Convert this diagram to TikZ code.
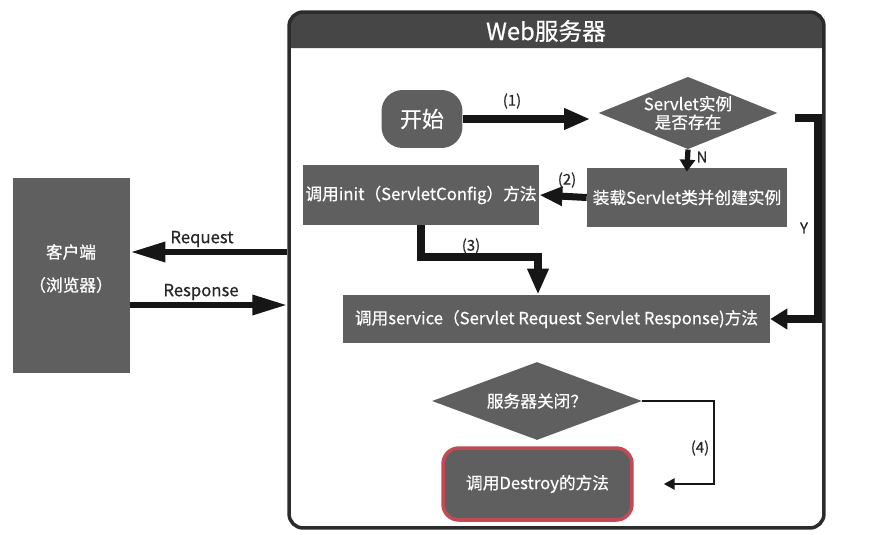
\documentclass[tikz,border=0pt]{standalone}
\usepackage{fontspec}
\setmainfont{Noto Sans CJK SC}[FakeBold=0.6]
\usetikzlibrary{arrows.meta,shapes.geometric}

\definecolor{boxgray}{HTML}{5F5F5F}
\definecolor{headgray}{HTML}{464646}
\definecolor{framegray}{HTML}{2B2B2B}
\definecolor{arrowblack}{HTML}{161616}
\definecolor{destroyred}{HTML}{C24A55}

\tikzset{
  box/.style={fill=boxgray, text=white, inner sep=0pt, font=\fontsize{9.5}{11}\selectfont},
  decision/.style={diamond, aspect=2.3, fill=boxgray, text=white, inner sep=0pt, align=center, font=\fontsize{9.5}{10.5}\selectfont},
  bigarrow/.style={draw=arrowblack, line width=4pt, -{Triangle[length=0.52cm,width=0.4cm]}},
  thinarrow/.style={draw=arrowblack, line width=1.6pt, -{Triangle[length=0.22cm,width=0.22cm]}},
  steplabel/.style={text=black!85, font=\fontsize{8.5}{10}\selectfont}
}

\begin{document}
\begin{tikzpicture}[x=0.02cm, y=-0.02cm]
  \useasboundingbox (0,0) rectangle (882,534);

  % Web服务器的框
  \fill[headgray, rounded corners=8pt] (289,48) -- (289,12) -- (824,12) -- (824,30) [sharp corners] -- (824,48) -- cycle;
  \node[draw=framegray, line width=2pt, rounded corners=8pt, minimum width=10.7cm, minimum height=10.32cm] (server) at (556.5,270) {};
  \node[text=white, font=\fontsize{13.5}{15}\selectfont] (webtitle) at (546,31) {Web服务器};

  % 客户端
  \node[box, minimum width=2.34cm, minimum height=3.9cm] (client) at (71.5,275.5) {};
  \node[text=white, font=\fontsize{9.5}{11}\selectfont] (clientname) at (71,252) {客户端};
  \node[text=white, font=\fontsize{9.5}{11}\selectfont] (browser) at (71,285) {（浏览器）};

  % 流程中的节点
  \node[box, rounded corners=12pt, minimum width=1.62cm, minimum height=1.16cm, font=\fontsize{12.5}{14}\selectfont] (start) at (422,119) {开始};
  \node[decision, minimum width=3.58cm, minimum height=1.24cm] (exist) at (688,113) {Servlet实例\\是否存在};
  \node[box, minimum width=4.0cm, minimum height=1.18cm] (load) at (687,197.5) {装载Servlet类并创建实例};
  \node[box, minimum width=4.72cm, minimum height=1.2cm] (init) at (421,195) {调用init（ServletConfig）方法};
  \node[box, minimum width=8.54cm, minimum height=0.96cm] (service) at (556.5,319) {调用service（Servlet Request Servlet Response)方法};
  \node[decision, minimum width=4.2cm, minimum height=1.56cm] (close) at (537,401) {服务器关闭？};
  \node[box, draw=destroyred, line width=2pt, rounded corners=9pt, minimum width=3.78cm, minimum height=1.44cm] (destroy) at (537.5,484) {调用Destroy的方法};

  % 连接线
  \coordinate (ycorner) at (818,118);
  \coordinate (turn3) at (538,257);
  \coordinate (turn4) at (714,401);
  \draw[bigarrow, shorten >=0.16cm] (start) -- (start -| exist.west);
  \draw[bigarrow, line width=3pt, -{Triangle[length=0.24cm,width=0.3cm]}, shorten >=-0.08cm] (exist.south) -- (load.north);
  \draw[bigarrow, -{Triangle[length=0.46cm,width=0.36cm]}] (load.west) -- (init.east);
  \draw[bigarrow] (init.south) |- (turn3) -- (turn3 |- service.north);
  \draw[bigarrow, -{Triangle[length=0.34cm,width=0.4cm]}, shorten <=0.34cm] (ycorner -| exist.east) -- (ycorner) |- (service.east);
  \draw[thinarrow, shorten >=0.6cm] (close.east) -- (turn4) |- (destroy.east);
  \draw[bigarrow, line width=3.6pt, -{Triangle[length=0.7cm,width=0.38cm]}] (server.west |- 0,252) -- (client.east |- 0,252);
  \draw[bigarrow, line width=3.6pt, -{Triangle[length=0.7cm,width=0.38cm]}] (client.east |- 0,305) -- (server.west |- 0,305);

  % 注释
  \node[steplabel] (lab1) at (512,101) {(1)};
  \node[steplabel] (labn) at (702,157) {N};
  \node[steplabel] (lab2) at (567,180) {(2)};
  \node[steplabel] (lab3) at (471,246) {(3)};
  \node[steplabel] (laby) at (804,228) {Y};
  \node[steplabel] (lab4) at (700,448) {(4)};
  \node[steplabel, font=\fontsize{9.5}{11}\selectfont] (labreq) at (202,239) {Request};
  \node[steplabel, font=\fontsize{9.5}{11}\selectfont] (labresp) at (201,292) {Response};
\end{tikzpicture}
\end{document}
